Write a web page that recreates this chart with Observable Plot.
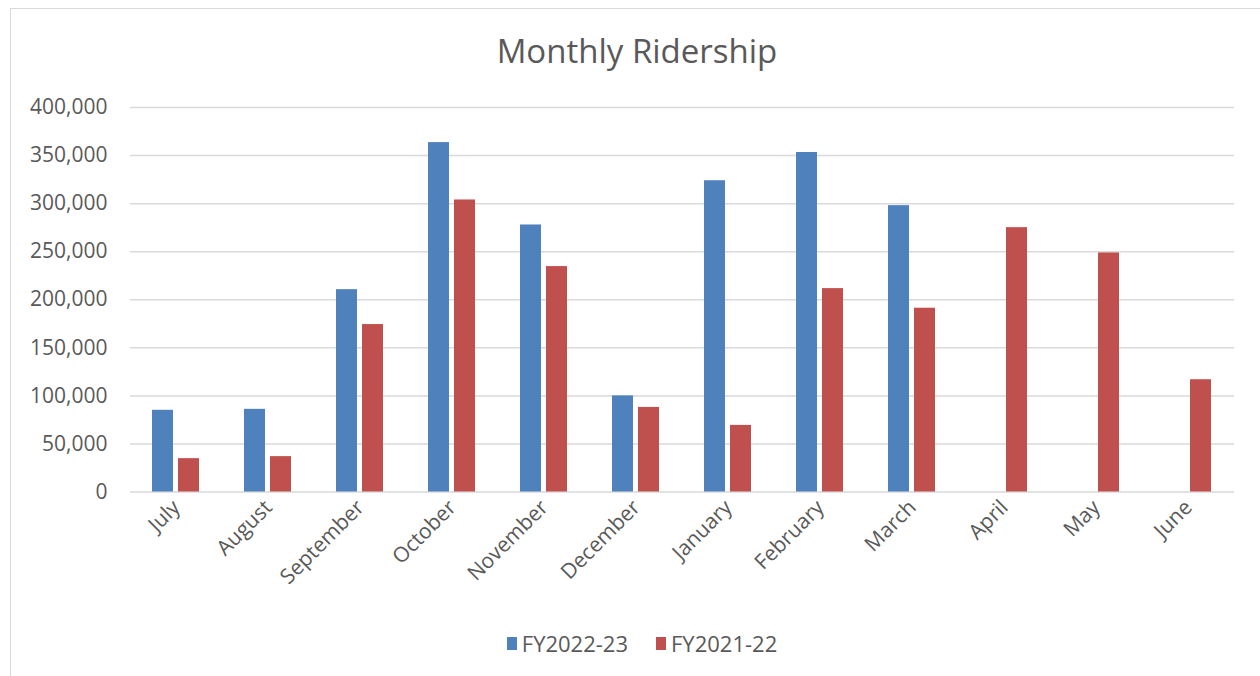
<!DOCTYPE html>
<html>
<head>
<meta charset="utf-8">
<script src="https://cdn.jsdelivr.net/npm/d3@7"></script>
<script src="https://cdn.jsdelivr.net/npm/@observablehq/plot@0.6"></script>
<style>
  html, body { margin: 0; padding: 0; background: #fff; }
  body { width: 1260px; height: 676px; overflow: hidden; position: relative; font-family: "Open Sans", sans-serif; color: #595959; }
  #frame { position: absolute; left: 10px; top: 8px; width: 1300px; height: 700px; border-top: 1px solid #d9d9d9; border-left: 1px solid #d9d9d9; box-sizing: border-box; }
  #wrap { position: absolute; left: 0; top: 0; width: 1260px; }
  #title { height: 80px; box-sizing: border-box; padding-top: 29px; padding-left: 14px; text-align: center; font-size: 33px; line-height: 44px; color: #595959; }
  #plot svg { display: block; }
  #legend { display: flex; justify-content: center; align-items: center; padding-left: 24px; height: 40px; margin-top: 23px; font-size: 22px; color: #595959; }
  .item { display: flex; align-items: center; margin: 0 14px; }
  .sw { width: 10px; height: 13px; margin-right: 5px; }
</style>
</head>
<body>
<div id="frame"></div>
<div id="wrap">
  <div id="title">Monthly Ridership</div>
  <div id="plot"></div>
  <div id="legend"></div>
</div>
<script>
const months = ["July", "August", "September", "October", "November", "December", "January", "February", "March", "April", "May", "June"];
const series = ["FY2022-23", "FY2021-22"];
const colors = ["#4f81bd", "#c0504d"];
const fy2223 = [85000, 86000, 210500, 363500, 277800, 100000, 323800, 353200, 297900, null, null, null];
const fy2122 = [34700, 36800, 174200, 303800, 234500, 88000, 69300, 211600, 191200, 275000, 248700, 116800];
const yTicks = [0, 50000, 100000, 150000, 200000, 250000, 300000, 350000, 400000];

const rows = [];
months.forEach((m, i) => {
  if (fy2223[i] != null) rows.push({month: m, series: series[0], value: fy2223[i]});
  if (fy2122[i] != null) rows.push({month: m, series: series[1], value: fy2122[i]});
});

const chart = Plot.plot({
  width: 1260,
  height: 520,
  marginLeft: 125,
  marginRight: 22,
  marginTop: 27,
  marginBottom: 108.5,
  style: {fontFamily: "Open Sans, sans-serif", fontSize: "21px", color: "#595959", background: "transparent"},
  fx: {domain: months, padding: 0, label: null, axis: "bottom", tickRotate: -45, tickSize: 0, tickPadding: 12},
  x: {domain: series, paddingInner: 0.19, paddingOuter: 0.86, axis: null},
  y: {domain: [0, 400000], ticks: yTicks, tickFormat: d3.format(","), label: null, tickSize: 0, tickPadding: 23},
  color: {domain: series, range: colors},
  marks: [
    Plot.ruleY(yTicks, {stroke: "#d9d9d9", strokeWidth: 1.5}),
    Plot.barY(rows, {fx: "month", x: "series", y: "value", fill: "series", inset: 0})
  ]
});
document.getElementById("plot").appendChild(chart);

const legend = document.getElementById("legend");
series.forEach((s, i) => {
  const it = document.createElement("div");
  it.className = "item";
  const sw = document.createElement("div");
  sw.className = "sw";
  sw.style.background = colors[i];
  const t = document.createElement("span");
  t.textContent = s;
  it.appendChild(sw);
  it.appendChild(t);
  legend.appendChild(it);
});
</script>
</body>
</html>
